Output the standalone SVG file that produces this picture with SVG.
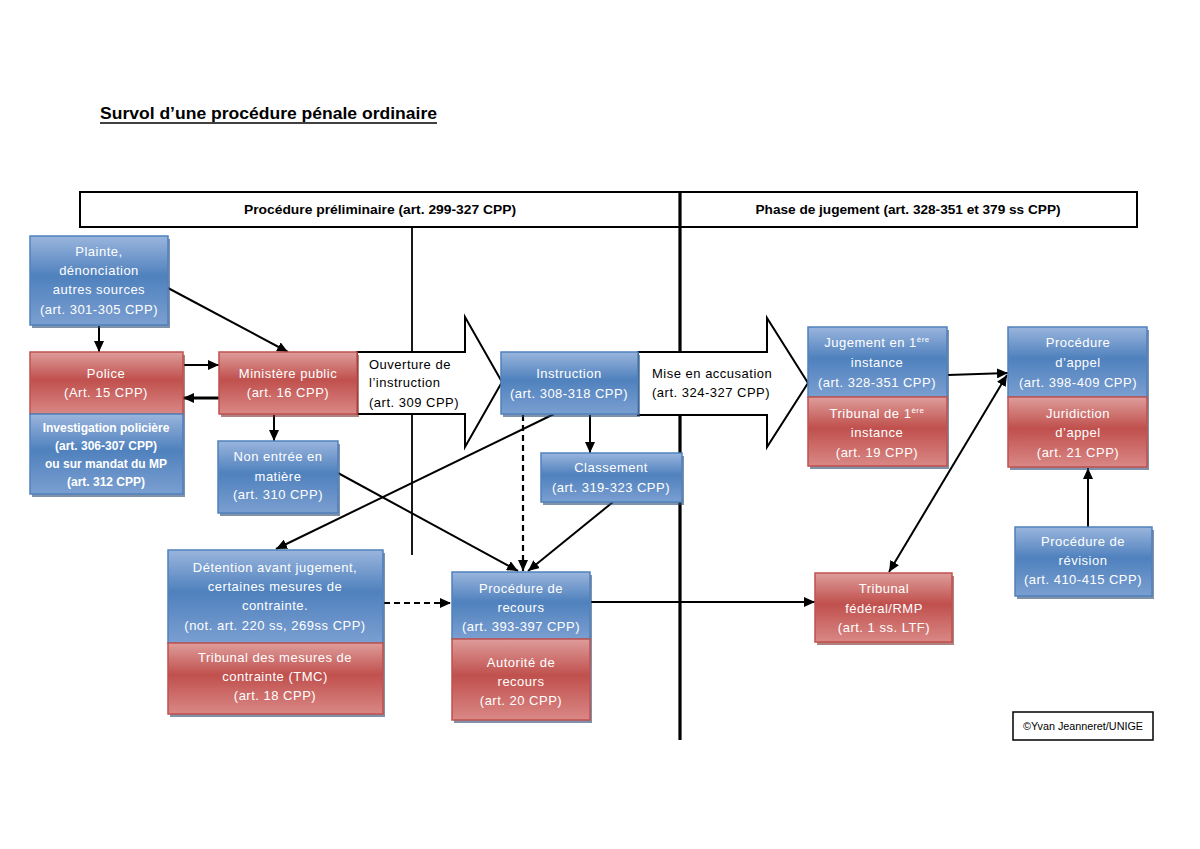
<svg xmlns="http://www.w3.org/2000/svg" width="1200" height="849" viewBox="0 0 1200 849">
<style>
text{font-family:"Liberation Sans",Arial,sans-serif;}
.t{font-size:13px;fill:#fff;text-anchor:middle;letter-spacing:0.5px;}
.tb{font-size:12px;fill:#fff;text-anchor:middle;font-weight:bold;}
.k{font-size:13px;fill:#000;letter-spacing:0.5px;}
.h{font-size:13px;font-weight:bold;fill:#000;text-anchor:middle;}
.blue{fill:url(#gb);stroke:#4f81bd;stroke-width:1.5;}
.red{fill:url(#gr);stroke:#c0504d;stroke-width:1.5;}
.sb{fill:#2b4a70;opacity:0.6;}
.sr{fill:#7a2d2b;opacity:0.6;}
.c{stroke:#000;stroke-width:2;fill:none;}
.d{stroke:#000;stroke-width:2.2;fill:none;stroke-dasharray:6,4;}
.blk{fill:#fff;stroke:#000;stroke-width:2;}
</style>
<defs>
<linearGradient id="gb" x1="0" y1="0" x2="0" y2="1">
<stop offset="0" stop-color="#9ab5dd"/>
<stop offset="0.45" stop-color="#4f81bd"/>
<stop offset="1" stop-color="#7b9fd1"/>
</linearGradient>
<linearGradient id="gr" x1="0" y1="0" x2="0" y2="1">
<stop offset="0" stop-color="#de9d9b"/>
<stop offset="0.45" stop-color="#c0504d"/>
<stop offset="1" stop-color="#d98886"/>
</linearGradient>
<marker id="a" markerUnits="userSpaceOnUse" markerWidth="12" markerHeight="10" refX="11" refY="5" orient="auto-start-reverse">
<path d="M0,0 L11,5 L0,10 z" fill="#000"/>
</marker>
</defs>
<rect width="1200" height="849" fill="#fff"/>

<!-- Title -->
<g id="title">
<text x="100" y="119" font-size="16.5" font-weight="bold" fill="#000" textLength="337" lengthAdjust="spacingAndGlyphs">Survol d’une procédure pénale ordinaire</text>
<line x1="100" y1="123" x2="437" y2="123" stroke="#000" stroke-width="1.4"/>
</g>

<!-- Header / phases -->
<g id="header">
<line x1="412" y1="227" x2="412" y2="555" stroke="#000" stroke-width="1.8"/>
<line x1="680" y1="192" x2="680" y2="740" stroke="#000" stroke-width="3.2"/>
<rect x="80" y="192" width="1057" height="35" fill="none" stroke="#000" stroke-width="2"/>
<text class="h" x="380" y="214" textLength="272" lengthAdjust="spacingAndGlyphs">Procédure préliminaire (art. 299-327 CPP)</text>
<text class="h" x="908" y="214" textLength="305" lengthAdjust="spacingAndGlyphs">Phase de jugement (art. 328-351 et 379 ss CPP)</text>
</g>

<!-- Connectors -->
<g id="connectors">
<line class="c" x1="99" y1="326" x2="99" y2="352" marker-end="url(#a)"/>
<line class="c" x1="168" y1="288" x2="288" y2="352" marker-end="url(#a)"/>
<line class="c" x1="184" y1="365" x2="219" y2="365" marker-end="url(#a)"/>
<line x1="219" y1="398" x2="183" y2="398" stroke="#000" stroke-width="3" marker-end="url(#a)"/>
<line class="c" x1="274" y1="415" x2="274" y2="441" marker-end="url(#a)"/>
<line class="c" x1="338" y1="473" x2="518" y2="571" marker-end="url(#a)"/>
<line class="c" x1="554" y1="414" x2="276" y2="549" marker-end="url(#a)"/>
<line class="d" x1="523" y1="415" x2="523" y2="571" marker-end="url(#a)"/>
<line class="c" x1="590" y1="415" x2="590" y2="453" marker-end="url(#a)"/>
<line class="c" x1="613" y1="502" x2="528" y2="571" marker-end="url(#a)"/>
<line class="d" x1="384" y1="603" x2="451" y2="603" marker-end="url(#a)"/>
<line class="c" x1="591" y1="602" x2="815" y2="602" marker-end="url(#a)"/>
<line class="c" x1="948" y1="375" x2="1008" y2="373" marker-end="url(#a)"/>
<line class="c" x1="1007" y1="375" x2="889" y2="572" marker-start="url(#a)" marker-end="url(#a)"/>
<line class="c" x1="1088" y1="527" x2="1088" y2="468" marker-end="url(#a)"/>
</g>

<!-- Block arrows -->
<g id="ouverture">
<path class="blk" d="M357,352 H465 V317 L502,382 L465,447 V414 H357 Z"/>
<text class="k" x="369" y="369">Ouverture de</text>
<text class="k" x="369" y="387">l’instruction</text>
<text class="k" x="369" y="407">(art. 309 CPP)</text>
</g>
<g id="mise-en-accusation">
<path class="blk" d="M638,352 H767 V318 L808,383 L767,447 V415 H638 Z"/>
<text class="k" x="652" y="378">Mise en accusation</text>
<text class="k" x="652" y="397">(art. 324-327 CPP)</text>
</g>

<!-- Nodes -->
<g id="plainte">
<rect class="sb" x="32" y="239" width="138" height="89"/>
<rect class="blue" x="30" y="236" width="138" height="89"/>
<text class="t" x="99" y="256">Plainte,</text>
<text class="t" x="99" y="275">dénonciation</text>
<text class="t" x="99" y="294">autres sources</text>
<text class="t" x="99" y="314">(art. 301-305 CPP)</text>
</g>
<g id="police">
<rect class="sr" x="32" y="355" width="153" height="62"/>
<rect class="red" x="30" y="352" width="153" height="62"/>
<text class="t" x="106" y="378">Police</text>
<text class="t" x="106" y="397">(Art. 15 CPP)</text>
</g>
<g id="investigation">
<rect class="sb" x="32" y="417" width="153" height="80"/>
<rect class="blue" x="30" y="414" width="153" height="80"/>
<text class="tb" x="106" y="432">Investigation policière</text>
<text class="tb" x="106" y="450">(art. 306-307 CPP)</text>
<text class="tb" x="106" y="468">ou sur mandat du MP</text>
<text class="tb" x="106" y="486">(art. 312 CPP)</text>
</g>
<g id="ministere-public">
<rect class="sr" x="221" y="355" width="138" height="62"/>
<rect class="red" x="219" y="352" width="138" height="62"/>
<text class="t" x="288" y="378">Ministère public</text>
<text class="t" x="288" y="397">(art. 16 CPP)</text>
</g>
<g id="non-entree">
<rect class="sb" x="220" y="444" width="120" height="72"/>
<rect class="blue" x="218" y="441" width="120" height="72"/>
<text class="t" x="278" y="461">Non entrée en</text>
<text class="t" x="278" y="481">matière</text>
<text class="t" x="278" y="499">(art. 310 CPP)</text>
</g>
<g id="instruction">
<rect class="sb" x="503" y="355" width="137" height="62"/>
<rect class="blue" x="501" y="352" width="137" height="62"/>
<text class="t" x="569" y="378">Instruction</text>
<text class="t" x="569" y="398">(art. 308-318 CPP)</text>
</g>
<g id="classement">
<rect class="sb" x="543" y="456" width="141" height="49"/>
<rect class="blue" x="541" y="453" width="141" height="49"/>
<text class="t" x="611" y="472">Classement</text>
<text class="t" x="611" y="492">(art. 319-323 CPP)</text>
</g>
<g id="jugement">
<rect class="sb" x="810" y="330" width="139" height="139"/>
<rect class="blue" x="808" y="327" width="139" height="70"/>
<text class="t" x="877" y="347">Jugement en 1<tspan font-size="8" dy="-5">ère</tspan></text>
<text class="t" x="877" y="367">instance</text>
<text class="t" x="877" y="387">(art. 328-351 CPP)</text>
</g>
<g id="tribunal-1ere">
<rect class="red" x="808" y="397" width="139" height="69"/>
<text class="t" x="877" y="418">Tribunal de 1<tspan font-size="8" dy="-5">ère</tspan></text>
<text class="t" x="877" y="437">instance</text>
<text class="t" x="877" y="457">(art. 19 CPP)</text>
</g>
<g id="procedure-appel">
<rect class="sb" x="1010" y="330" width="139" height="140"/>
<rect class="blue" x="1008" y="327" width="139" height="70"/>
<text class="t" x="1078" y="347">Procédure</text>
<text class="t" x="1078" y="367">d’appel</text>
<text class="t" x="1078" y="387">(art. 398-409 CPP)</text>
</g>
<g id="juridiction-appel">
<rect class="red" x="1008" y="397" width="139" height="70"/>
<text class="t" x="1078" y="418">Juridiction</text>
<text class="t" x="1078" y="437">d’appel</text>
<text class="t" x="1078" y="457">(art. 21 CPP)</text>
</g>
<g id="detention">
<rect class="sb" x="170" y="553" width="215" height="164"/>
<rect class="blue" x="168" y="550" width="215" height="93"/>
<text class="t" x="275" y="572">Détention avant jugement,</text>
<text class="t" x="275" y="591">certaines mesures de</text>
<text class="t" x="275" y="610">contrainte.</text>
<text class="t" x="275" y="630">(not. art. 220 ss, 269ss CPP)</text>
</g>
<g id="tmc">
<rect class="red" x="168" y="643" width="215" height="71"/>
<text class="t" x="275" y="662">Tribunal des mesures de</text>
<text class="t" x="275" y="681">contrainte (TMC)</text>
<text class="t" x="275" y="700">(art. 18 CPP)</text>
</g>
<g id="procedure-recours">
<rect class="sb" x="454" y="575" width="138" height="148"/>
<rect class="blue" x="452" y="572" width="138" height="67"/>
<text class="t" x="521" y="593">Procédure de</text>
<text class="t" x="521" y="612">recours</text>
<text class="t" x="521" y="631">(art. 393-397 CPP)</text>
</g>
<g id="autorite-recours">
<rect class="red" x="452" y="639" width="138" height="81"/>
<text class="t" x="521" y="667">Autorité de</text>
<text class="t" x="521" y="686">recours</text>
<text class="t" x="521" y="705">(art. 20 CPP)</text>
</g>
<g id="tribunal-federal">
<rect class="sr" x="817" y="576" width="137" height="69"/>
<rect class="red" x="815" y="573" width="137" height="69"/>
<text class="t" x="884" y="593">Tribunal</text>
<text class="t" x="884" y="613">fédéral/RMP</text>
<text class="t" x="884" y="632">(art. 1 ss. LTF)</text>
</g>
<g id="revision">
<rect class="sb" x="1017" y="530" width="137" height="69"/>
<rect class="blue" x="1015" y="527" width="137" height="69"/>
<text class="t" x="1083" y="546">Procédure de</text>
<text class="t" x="1083" y="565">révision</text>
<text class="t" x="1083" y="584">(art. 410-415 CPP)</text>
</g>
<g id="copyright">
<rect x="1013" y="712" width="140" height="28" fill="#fff" stroke="#000" stroke-width="1.5"/>
<text x="1083" y="730" font-size="10.5" text-anchor="middle" fill="#000" textLength="120" lengthAdjust="spacingAndGlyphs">©Yvan Jeanneret/UNIGE</text>
</g>
</svg>
